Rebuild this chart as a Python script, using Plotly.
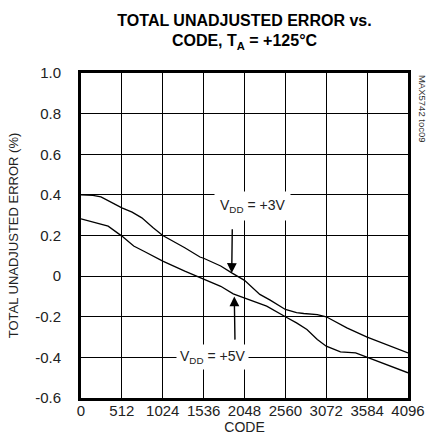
import plotly.graph_objects as go

# ---- data ----
code_3v = [0, 150, 250, 400, 512, 640, 762, 900, 1024, 1300, 1490, 1536, 1750, 1888, 1990,
           2048, 2240, 2370, 2560, 2700, 2790, 2960, 3072, 3330, 3584, 3850, 4096]
tue_3v = [0.400, 0.398, 0.390, 0.360, 0.336, 0.315, 0.287, 0.240, 0.200, 0.140, 0.094, 0.088,
          0.050, 0.016, -0.005, -0.021, -0.090, -0.118, -0.164, -0.180, -0.184, -0.190, -0.200,
          -0.255, -0.300, -0.340, -0.378]

code_5v = [0, 340, 512, 660, 800, 1024, 1300, 1536, 1750, 1907, 2048, 2326, 2560, 2700, 2830,
           2960, 3072, 3250, 3440, 3584, 3850, 4096]
tue_5v = [0.282, 0.246, 0.197, 0.148, 0.120, 0.074, 0.025, -0.016, -0.050, -0.087, -0.107,
          -0.148, -0.200, -0.230, -0.263, -0.312, -0.345, -0.373, -0.378, -0.400, -0.438, -0.476]

x_ticks = [0, 512, 1024, 1536, 2048, 2560, 3072, 3584, 4096]
y_ticks = [1.0, 0.8, 0.6, 0.4, 0.2, 0, -0.2, -0.4, -0.6]
y_tick_text = ["1.0", "0.8", "0.6", "0.4", "0.2", "0", "-0.2", "-0.4", "-0.6"]

FONT = "Liberation Sans, Arial, Helvetica, sans-serif"
TXT = "#222222"

fig = go.Figure()
fig.add_trace(go.Scatter(x=code_3v, y=tue_3v, mode="lines",
                         line=dict(color="black", width=1.3), showlegend=False))
fig.add_trace(go.Scatter(x=code_5v, y=tue_5v, mode="lines",
                         line=dict(color="black", width=1.3), showlegend=False))

# labels with white background
fig.add_annotation(x=2142, y=0.345, text="V<sub>DD</sub> = +3V", showarrow=False,
                   bgcolor="white", borderpad=5, font=dict(family=FONT, size=14, color=TXT))
fig.add_annotation(x=1641, y=-0.40, text="V<sub>DD</sub> = +5V", showarrow=False,
                   bgcolor="white", borderpad=3, font=dict(family=FONT, size=14, color=TXT))

# arrows
fig.add_annotation(x=1888, y=0.016, ax=1895, ay=0.238, axref="x", ayref="y", text="",
                   showarrow=True, arrowhead=2, arrowsize=1.4, arrowwidth=1.4, arrowcolor="black")
fig.add_annotation(x=1920, y=-0.10, ax=1929, ay=-0.32, axref="x", ayref="y", text="",
                   showarrow=True, arrowhead=2, arrowsize=1.4, arrowwidth=1.4, arrowcolor="black")

# side code
fig.add_annotation(x=1.046, y=1.0, xref="paper", yref="paper", text="MAX5742 toc09",
                   textangle=90, showarrow=False, xanchor="center", yanchor="top",
                   font=dict(family=FONT, size=9.5, color="#333333"))

fig.update_layout(
    width=435, height=446,
    margin=dict(l=81, r=27, t=73, b=48, autoexpand=False),
    paper_bgcolor="white", plot_bgcolor="white",
    font=dict(family=FONT, size=15, color=TXT),
    title=dict(text="<b>TOTAL UNADJUSTED ERROR vs.<br>CODE, T<sub>A</sub> = +125°C</b>",
               x=0.5, xref="paper", xanchor="center",
               y=1 - 25.5 / 446, yref="container", yanchor="middle",
               font=dict(family=FONT, size=16, color="black")),
)

fig.update_xaxes(range=[0, 4096], tickvals=x_ticks, ticktext=[str(v) for v in x_ticks],
                 showgrid=True, gridcolor="black", gridwidth=1,
                 showline=True, linecolor="black", linewidth=3, mirror=True,
                 ticks="", ticklabelstandoff=-3, automargin=False,
                 zeroline=False, title=dict(text="CODE", standoff=0, font=dict(size=14)))
fig.update_yaxes(range=[-0.6, 1.0], tickvals=y_ticks, ticktext=y_tick_text,
                 showgrid=True, gridcolor="black", gridwidth=1,
                 showline=True, linecolor="black", linewidth=3, mirror=True,
                 ticks="outside", ticklen=14, tickcolor="rgba(0,0,0,0)", automargin=False,
                 zeroline=False, title=dict(text="TOTAL UNADJUSTED ERROR (%)", standoff=14,
                                            font=dict(size=13)))

fig.write_html("out.html", config={"displayModeBar": False},
               post_script="document.body.style.margin='0';")
